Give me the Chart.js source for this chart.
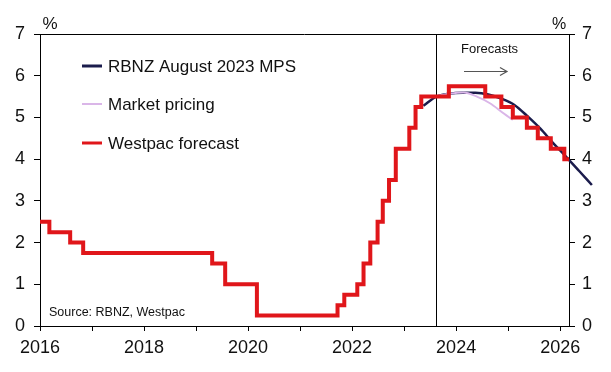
<!DOCTYPE html>
<html>
<head>
<meta charset="utf-8">
<script src="https://cdn.jsdelivr.net/npm/chart.js@4"></script>
<style>
  body { margin:0; background:#fff; }
  #wrap { width:611px; height:372px; }
</style>
</head>
<body>
<div id="wrap"><canvas id="ocr-chart" width="611" height="372"></canvas></div>
<script>
/* ---- data (decimal years / % OCR) ---- */
const westpacDates = [2016.0, 2016.18, 2016.58, 2016.83, 2019.31, 2019.56, 2020.17, 2021.72, 2021.85,
  2022.10, 2022.22, 2022.35, 2022.49, 2022.59, 2022.71, 2022.84, 2023.10, 2023.22, 2023.33, 2023.86,
  2024.56, 2024.87, 2025.09, 2025.36, 2025.57, 2025.82, 2026.08, 2026.17];
const westpacRates = [2.5, 2.25, 2.0, 1.75, 1.5, 1.0, 0.25, 0.5, 0.75,
  1.0, 1.5, 2.0, 2.5, 3.0, 3.5, 4.25, 4.75, 5.25, 5.5, 5.75,
  5.5, 5.25, 5.0, 4.75, 4.5, 4.25, 4.0, 4.0];

const mpsDates = [2023.37, 2023.62, 2023.87, 2024.12, 2024.37, 2024.62, 2024.87, 2025.12, 2025.37, 2025.62, 2025.87, 2026.12, 2026.37, 2026.61];
const mpsRates = [5.28, 5.50, 5.57, 5.59, 5.59, 5.55, 5.45, 5.30, 5.03, 4.73, 4.38, 4.05, 3.71, 3.38];

const marketDates = [2023.65, 2023.87, 2024.14, 2024.40, 2024.65, 2024.91, 2025.09];
const marketRates = [5.52, 5.57, 5.60, 5.50, 5.34, 5.10, 4.94];

const yearTicks = [2016, 2017, 2018, 2019, 2020, 2021, 2022, 2023, 2024, 2025, 2026];
const rateTicks = [0, 1, 2, 3, 4, 5, 6, 7];
const xRange = [2016, 2026.17];
const forecastStart = 2023.62;

const COLORS = { red:'#e0161a', navy:'#1b1c4c', lilac:'#dab6e8', text:'#111111' };
const FONT = 'Liberation Sans, Arial, sans-serif';
Chart.defaults.font.family = FONT;

const pts = (xs, ys) => xs.map((x, i) => ({ x, y: ys[i] }));

/* ---- extras: frame top, forecast divider, legend, notes ---- */
const extras = {
  id: 'extras',
  beforeDatasetsDraw(chart) {
    const { ctx, chartArea: a, scales } = chart;
    const fx = Math.round(scales.x.getPixelForValue(forecastStart)) + 0.5;
    ctx.save();
    ctx.strokeStyle = '#000';
    ctx.lineWidth = 1;
    ctx.beginPath();
    ctx.moveTo(fx, a.top); ctx.lineTo(fx, a.bottom);
    ctx.moveTo(a.left, a.top + 0.5); ctx.lineTo(a.right, a.top + 0.5);
    ctx.stroke();
    ctx.restore();
  },
  afterDraw(chart) {
    const { ctx } = chart;
    ctx.save();
    // legend
    const items = [
      { label:'RBNZ August 2023 MPS', color:COLORS.navy,  w:3, y:66 },
      { label:'Market pricing',      color:COLORS.lilac, w:2, y:104 },
      { label:'Westpac forecast',    color:COLORS.red,   w:3, y:143 },
    ];
    ctx.font = `17px ${FONT}`;
    ctx.textBaseline = 'middle';
    ctx.fillStyle = COLORS.text;
    items.forEach(it => {
      ctx.strokeStyle = it.color;
      ctx.lineWidth = it.w;
      ctx.beginPath(); ctx.moveTo(82, it.y); ctx.lineTo(102, it.y); ctx.stroke();
      ctx.fillText(it.label, 108, it.y + 1);
    });
    // % labels
    ctx.textAlign = 'center';
    ctx.font = `17px ${FONT}`;
    ctx.fillText('%', 50, 24);
    ctx.font = `16px ${FONT}`;
    ctx.fillText('%', 559, 25);
    // source + forecasts
    ctx.textAlign = 'left';
    ctx.textBaseline = 'alphabetic';
    ctx.font = `12.5px ${FONT}`;
    ctx.fillText('Source: RBNZ, Westpac', 49, 316);
    ctx.font = `13px ${FONT}`;
    ctx.fillText('Forecasts', 461, 53);
    // arrow
    ctx.strokeStyle = '#555';
    ctx.lineWidth = 1.2;
    ctx.beginPath();
    ctx.moveTo(464, 71.5); ctx.lineTo(507, 71.5);
    ctx.moveTo(500, 67.5); ctx.lineTo(507, 71.5); ctx.lineTo(500, 75.5);
    ctx.stroke();
    ctx.restore();
  }
};

const yAxis = (position, width, pad) => ({
  position, min:0, max:7,
  afterBuildTicks: s => { s.ticks = rateTicks.map(v => ({ value:v })); },
  afterFit: s => { s.width = width; },
  grid: { drawOnChartArea:false, tickLength:6, color:'#000' },
  border: { color:'#000', width:1 },
  ticks: { padding:pad, color:COLORS.text, font:{ size:18 } },
});

new Chart(document.getElementById('ocr-chart'), {
  type:'line',
  data:{
    datasets:[
      { label:'Westpac forecast', data: pts(westpacDates, westpacRates), borderColor:COLORS.red,
        borderWidth:4, stepped:'before', borderJoinStyle:'miter', pointRadius:0, order:0 },
      { label:'Market pricing', data: pts(marketDates, marketRates), borderColor:COLORS.lilac,
        borderWidth:2, cubicInterpolationMode:'monotone', pointRadius:0, order:1 },
      { label:'RBNZ August 2023 MPS', data: pts(mpsDates, mpsRates), borderColor:COLORS.navy,
        borderWidth:2.5, cubicInterpolationMode:'monotone', pointRadius:0, clip:false, order:2 },
    ],
  },
  options:{
    responsive:false, animation:false, devicePixelRatio:1,
    layout:{ padding:{ top:34, left:0, right:0, bottom:0 } },
    plugins:{ legend:{ display:false }, tooltip:{ enabled:false } },
    scales:{
      x:{
        type:'linear', bounds:'data',
        // range set here (not via min/max) so the MPS track can run past the right axis
        afterDataLimits: s => { s.min = xRange[0]; s.max = xRange[1]; },
        afterBuildTicks: s => { s.ticks = yearTicks.map(v => ({ value:v })); },
        afterFit: s => { s.height = 46; },
        grid:{ drawOnChartArea:false, tickLength:5, color:'#000' },
        border:{ color:'#000', width:1 },
        ticks:{ callback: v => (v % 2 === 0 ? String(v) : ''), color:COLORS.text, font:{ size:18 },
          maxRotation:0, autoSkip:false, padding:6 },
      },
      y: yAxis('left', 40, 9),
      y2: yAxis('right', 42, 7),
    },
  },
  plugins:[extras],
});
</script>
</body>
</html>
